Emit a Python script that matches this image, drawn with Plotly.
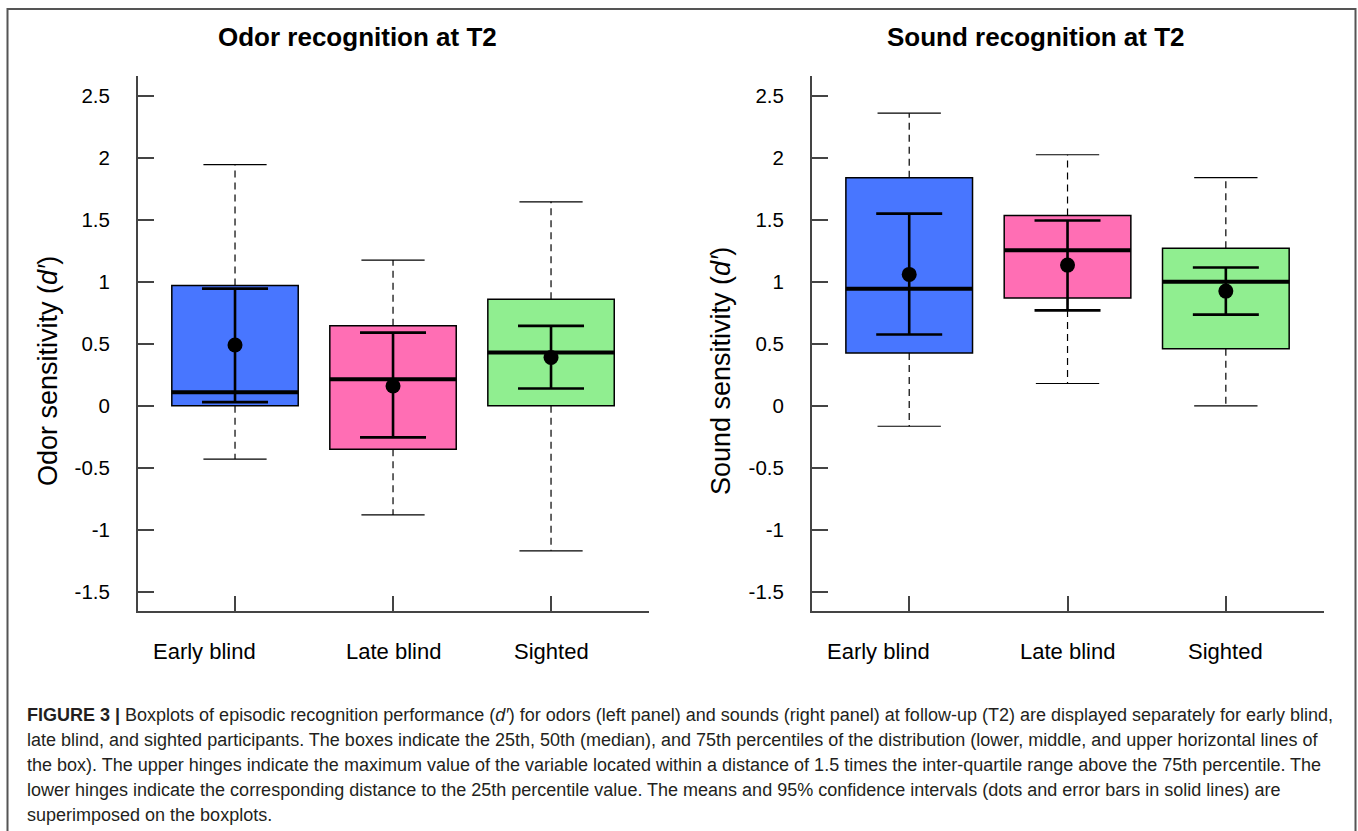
import plotly.graph_objects as go

# ---- data -----------------------------------------------------------------
groups = ["Early blind", "Late blind", "Sighted"]
group_pos = [1, 2, 3]
box_colors = ["#4876FF", "#FF6EB4", "#90EE90"]

odor_lower_whisker = [-0.43, -0.88, -1.17]
odor_q1 = [0.0, -0.35, 0.0]
odor_median = [0.11, 0.215, 0.43]
odor_q3 = [0.97, 0.645, 0.86]
odor_upper_whisker = [1.945, 1.175, 1.645]
odor_mean = [0.49, 0.16, 0.39]
odor_ci_low = [0.03, -0.255, 0.14]
odor_ci_high = [0.945, 0.59, 0.645]

sound_lower_whisker = [-0.165, 0.18, 0.0]
sound_q1 = [0.425, 0.87, 0.46]
sound_median = [0.945, 1.255, 1.0]
sound_q3 = [1.84, 1.535, 1.27]
sound_upper_whisker = [2.36, 2.025, 1.84]
sound_mean = [1.06, 1.135, 0.925]
sound_ci_low = [0.575, 0.77, 0.735]
sound_ci_high = [1.55, 1.495, 1.115]

y_ticks = [-1.5, -1, -0.5, 0, 0.5, 1, 1.5, 2, 2.5]
y_ticktext = ["-1.5", "-1", "-0.5", "0", "0.5", "1", "1.5", "2", "2.5"]

caption_lines = [
    "<b>FIGURE 3 |</b> Boxplots of episodic recognition performance (<i>d′</i>) for odors (left panel) "
    "and sounds (right panel) at follow-up (T2) are displayed separately for early blind,",
    "late blind, and sighted participants. The boxes indicate the 25th, 50th (median), and 75th "
    "percentiles of the distribution (lower, middle, and upper horizontal lines of",
    "the box). The upper hinges indicate the maximum value of the variable located within a distance "
    "of 1.5 times the inter-quartile range above the 75th percentile. The",
    "lower hinges indicate the corresponding distance to the 25th percentile value. The means and 95% "
    "confidence intervals (dots and error bars in solid lines) are",
    "superimposed on the boxplots.",
]

# ---- layout helpers ---------------------------------------------------------
W, H = 1358, 831
FONT = "Liberation Sans, Arial, Helvetica, sans-serif"


def px_x(v):
    return v / W


def px_y(v):
    return 1 - v / H


BOX_W = 0.8
CAP_W = 0.4

fig = go.Figure()


def add_panel(xa, ya, lw, q1, med, q3, uw, mean, ci_lo, ci_hi):
    # boxes (interquartile range)
    fig.add_trace(go.Bar(
        x=group_pos, y=[b - a for a, b in zip(q1, q3)], base=q1, width=BOX_W,
        marker=dict(color=box_colors, line=dict(color="black", width=1.5)),
        xaxis=xa, yaxis=ya, showlegend=False, hoverinfo="skip"))

    # dashed whiskers
    wx, wy = [], []
    for p, a, b, lo, hi in zip(group_pos, q1, q3, lw, uw):
        wx += [p, p, None, p, p, None]
        wy += [b, hi, None, a, lo, None]
    fig.add_trace(go.Scatter(
        x=wx, y=wy, mode="lines", line=dict(color="black", width=1.2, dash="7px,5px"),
        xaxis=xa, yaxis=ya, showlegend=False, hoverinfo="skip"))

    # whisker caps
    cx, cy = [], []
    for p, lo, hi in zip(group_pos, lw, uw):
        cx += [p - CAP_W / 2, p + CAP_W / 2, None, p - CAP_W / 2, p + CAP_W / 2, None]
        cy += [hi, hi, None, lo, lo, None]
    fig.add_trace(go.Scatter(
        x=cx, y=cy, mode="lines", line=dict(color="black", width=1.2),
        xaxis=xa, yaxis=ya, showlegend=False, hoverinfo="skip"))

    # medians
    mx, my = [], []
    for p, m in zip(group_pos, med):
        mx += [p - BOX_W / 2, p + BOX_W / 2, None]
        my += [m, m, None]
    fig.add_trace(go.Scatter(
        x=mx, y=my, mode="lines", line=dict(color="black", width=4),
        xaxis=xa, yaxis=ya, showlegend=False, hoverinfo="skip"))

    # means with 95% confidence intervals
    fig.add_trace(go.Scatter(
        x=group_pos, y=mean, mode="markers",
        marker=dict(color="black", size=15),
        error_y=dict(type="data", symmetric=False,
                     array=[h - m for m, h in zip(mean, ci_hi)],
                     arrayminus=[m - l for m, l in zip(mean, ci_lo)],
                     color="black", thickness=2.6, width=33),
        xaxis=xa, yaxis=ya, showlegend=False, hoverinfo="skip"))


add_panel("x", "y", odor_lower_whisker, odor_q1, odor_median, odor_q3,
          odor_upper_whisker, odor_mean, odor_ci_low, odor_ci_high)
add_panel("x2", "y2", sound_lower_whisker, sound_q1, sound_median, sound_q3,
          sound_upper_whisker, sound_mean, sound_ci_low, sound_ci_high)

AX_COLOR = "#444444"
x_common = dict(
    range=[0.386, 3.62], tickmode="array", tickvals=group_pos, ticktext=groups,
    showticklabels=False,
    showline=True, linecolor=AX_COLOR, linewidth=2, ticks="inside", ticklen=15,
    tickwidth=1.5, tickcolor=AX_COLOR, showgrid=False, zeroline=False,
    fixedrange=True,
)
y_common = dict(
    range=[-1.655, 2.66], tickmode="array", tickvals=y_ticks, ticktext=y_ticktext,
    showline=True, linecolor=AX_COLOR, linewidth=2, ticks="inside", ticklen=16,
    tickwidth=1.5, tickcolor=AX_COLOR, showgrid=False, zeroline=False,
    tickfont=dict(family=FONT, size=20.5, color="black"), ticklabelstandoff=22,
    fixedrange=True,
)

y_dom = [px_y(611), px_y(76)]
fig.update_layout(
    width=W, height=H, margin=dict(l=0, r=0, t=0, b=0),
    paper_bgcolor="white", plot_bgcolor="white",
    font=dict(family=FONT, color="black"),
    xaxis=dict(domain=[px_x(138), px_x(649)], anchor="y", **x_common),
    yaxis=dict(domain=y_dom, anchor="x", **y_common),
    xaxis2=dict(domain=[px_x(812), px_x(1324)], anchor="y2", **x_common),
    yaxis2=dict(domain=y_dom, anchor="x2", **y_common),
    showlegend=False,
)

# outer frame of the figure
fig.add_shape(type="rect", xref="paper", yref="paper",
              x0=px_x(7.5), x1=px_x(1355.5), y0=-0.2, y1=px_y(9),
              line=dict(color="#555555", width=2), fillcolor="rgba(0,0,0,0)")

annotations = []
# category labels under each x axis (the first one sits a little to the left)
label_shift = [-31, 0, 0]
for xref in ["x", "x2"]:
    for p, g, s in zip(group_pos, groups, label_shift):
        annotations.append(dict(text=g, x=p, xref=xref, y=px_y(651), yref="paper",
                                xshift=s, showarrow=False, xanchor="center", yanchor="middle",
                                font=dict(family=FONT, size=22, color="black")))
# panel titles
for txt, cx in [("Odor recognition at T2", 357), ("Sound recognition at T2", 1036)]:
    annotations.append(dict(text=f"<b>{txt}</b>", x=px_x(cx), y=px_y(37), xref="paper",
                            yref="paper", showarrow=False, xanchor="center", yanchor="middle",
                            font=dict(family=FONT, size=26, color="black")))
# y-axis titles
for txt, cx in [("Odor sensitivity (<i>d′</i>)", 48), ("Sound sensitivity (<i>d′</i>)", 721)]:
    annotations.append(dict(text=txt, x=px_x(cx), y=px_y(371), xref="paper", yref="paper",
                            showarrow=False, textangle=-90, xanchor="center", yanchor="middle",
                            font=dict(family=FONT, size=27, color="black")))
# caption
for i, line in enumerate(caption_lines):
    annotations.append(dict(text=line, x=px_x(25), y=px_y(715 + 25 * i), xref="paper",
                            yref="paper", showarrow=False, xanchor="left", yanchor="middle",
                            font=dict(family=FONT, size=18, color="#231f20")))
fig.update_layout(annotations=annotations)

fig.write_html("out.html")
